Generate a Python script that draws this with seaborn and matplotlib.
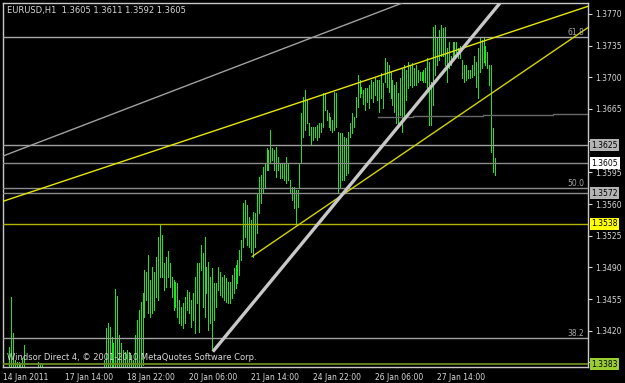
import numpy as np
import pandas as pd
import matplotlib
matplotlib.use("Agg")
import matplotlib.pyplot as plt
import matplotlib.transforms as mtransforms
from matplotlib.ticker import FormatStrFormatter
import seaborn as sns

# EURUSD H1, high / low of every bar (bar 0 = 14 Jan 2011)
high = [
    1.3371, 1.3374, 1.3377, 1.3402, 1.3457, 1.3418, 1.3388, 1.3386, 1.3386, 1.3384,
    1.3390, 1.3404, 1.3377, 1.3374, 1.3371, 1.3372, 1.3374, 1.3377, 1.3386, 1.3384,
    1.3383, 1.3376, 1.3372, 1.3368, 1.3365, 1.3369, 1.3374, 1.3371, 1.3366, 1.3362,
    1.3360, 1.3358, 1.3355, 1.3359, 1.3363, 1.3361, 1.3357, 1.3354, 1.3352, 1.3356,
    1.3360, 1.3363, 1.3366, 1.3362, 1.3365, 1.3369, 1.3372, 1.3370, 1.3374, 1.3376,
    1.3373, 1.3377, 1.3388, 1.3423, 1.3429, 1.3424, 1.3413, 1.3407, 1.3466, 1.3458,
    1.3415, 1.3407, 1.3399, 1.3397, 1.3399, 1.3397, 1.3393, 1.3388, 1.3415, 1.3432,
    1.3443, 1.3452, 1.3462, 1.3487, 1.3485, 1.3504, 1.3476, 1.3490, 1.3485, 1.3501,
    1.3524, 1.3537, 1.3526, 1.3495, 1.3501, 1.3508, 1.3495, 1.3479, 1.3476, 1.3474,
    1.3473, 1.3454, 1.3446, 1.3451, 1.3457, 1.3465, 1.3463, 1.3454, 1.3462, 1.3479,
    1.3495, 1.3495, 1.3515, 1.3506, 1.3524, 1.3490, 1.3496, 1.3479, 1.3489, 1.3473,
    1.3473, 1.3490, 1.3485, 1.3479, 1.3482, 1.3478, 1.3474, 1.3474, 1.3482, 1.3489,
    1.3493, 1.3498, 1.3509, 1.3520, 1.3561, 1.3564, 1.3559, 1.3546, 1.3542, 1.3551,
    1.3550, 1.3572, 1.3590, 1.3592, 1.3601, 1.3605, 1.3622, 1.3620, 1.3642, 1.3622,
    1.3620, 1.3623, 1.3612, 1.3605, 1.3605, 1.3605, 1.3612, 1.3605, 1.3586, 1.3579,
    1.3579, 1.3575, 1.3575, 1.3605, 1.3660, 1.3678, 1.3686, 1.3675, 1.3650, 1.3645,
    1.3645, 1.3645, 1.3647, 1.3649, 1.3649, 1.3683, 1.3683, 1.3664, 1.3660, 1.3656,
    1.3653, 1.3684, 1.3683, 1.3639, 1.3638, 1.3638, 1.3634, 1.3633, 1.3639, 1.3649,
    1.3660, 1.3656, 1.3678, 1.3702, 1.3697, 1.3689, 1.3686, 1.3688, 1.3688, 1.3691,
    1.3697, 1.3695, 1.3699, 1.3697, 1.3697, 1.3705, 1.3694, 1.3721, 1.3717, 1.3713,
    1.3706, 1.3697, 1.3691, 1.3695, 1.3683, 1.3699, 1.3710, 1.3713, 1.3708, 1.3717,
    1.3713, 1.3716, 1.3710, 1.3713, 1.3708, 1.3706, 1.3706, 1.3708, 1.3710, 1.3721,
    1.3717, 1.3695, 1.3755, 1.3758, 1.3743, 1.3752, 1.3758, 1.3754, 1.3755, 1.3732,
    1.3739, 1.3724, 1.3739, 1.3739, 1.3739, 1.3732, 1.3735, 1.3719, 1.3713, 1.3713,
    1.3708, 1.3708, 1.3713, 1.3724, 1.3717, 1.3732, 1.3743, 1.3741, 1.3743, 1.3735,
    1.3728, 1.3713, 1.3713, 1.3644, 1.3611,
]
low = [
    1.3349, 1.3352, 1.3355, 1.3360, 1.3366, 1.3366, 1.3360, 1.3359, 1.3361, 1.3359,
    1.3361, 1.3363, 1.3355, 1.3352, 1.3349, 1.3350, 1.3352, 1.3355, 1.3357, 1.3359,
    1.3357, 1.3352, 1.3348, 1.3345, 1.3341, 1.3346, 1.3350, 1.3347, 1.3342, 1.3338,
    1.3336, 1.3335, 1.3331, 1.3334, 1.3339, 1.3337, 1.3333, 1.3330, 1.3329, 1.3332,
    1.3338, 1.3341, 1.3344, 1.3340, 1.3343, 1.3347, 1.3350, 1.3348, 1.3352, 1.3355,
    1.3351, 1.3356, 1.3360, 1.3366, 1.3368, 1.3366, 1.3363, 1.3361, 1.3368, 1.3370,
    1.3366, 1.3363, 1.3360, 1.3361, 1.3363, 1.3362, 1.3360, 1.3359, 1.3366, 1.3371,
    1.3374, 1.3377, 1.3382, 1.3435, 1.3454, 1.3440, 1.3435, 1.3440, 1.3443, 1.3457,
    1.3454, 1.3479, 1.3479, 1.3465, 1.3468, 1.3479, 1.3468, 1.3457, 1.3443, 1.3446,
    1.3435, 1.3429, 1.3426, 1.3423, 1.3429, 1.3443, 1.3440, 1.3424, 1.3432, 1.3418,
    1.3451, 1.3419, 1.3487, 1.3446, 1.3435, 1.3462, 1.3421, 1.3429, 1.3399, 1.3432,
    1.3446, 1.3465, 1.3459, 1.3457, 1.3454, 1.3452, 1.3451, 1.3451, 1.3456, 1.3462,
    1.3467, 1.3473, 1.3482, 1.3498, 1.3513, 1.3524, 1.3515, 1.3513, 1.3507, 1.3501,
    1.3513, 1.3528, 1.3550, 1.3561, 1.3572, 1.3579, 1.3598, 1.3598, 1.3605, 1.3609,
    1.3598, 1.3590, 1.3598, 1.3589, 1.3589, 1.3586, 1.3583, 1.3586, 1.3572, 1.3564,
    1.3556, 1.3539, 1.3557, 1.3579, 1.3605, 1.3634, 1.3642, 1.3649, 1.3636, 1.3625,
    1.3631, 1.3634, 1.3631, 1.3634, 1.3639, 1.3645, 1.3664, 1.3653, 1.3645, 1.3642,
    1.3639, 1.3642, 1.3645, 1.3573, 1.3579, 1.3586, 1.3586, 1.3592, 1.3594, 1.3634,
    1.3638, 1.3645, 1.3656, 1.3667, 1.3678, 1.3683, 1.3671, 1.3664, 1.3673, 1.3666,
    1.3677, 1.3673, 1.3680, 1.3675, 1.3662, 1.3677, 1.3666, 1.3695, 1.3689, 1.3684,
    1.3677, 1.3669, 1.3662, 1.3650, 1.3647, 1.3658, 1.3639, 1.3655, 1.3675, 1.3688,
    1.3691, 1.3689, 1.3691, 1.3691, 1.3695, 1.3697, 1.3697, 1.3695, 1.3695, 1.3688,
    1.3647, 1.3647, 1.3669, 1.3702, 1.3713, 1.3719, 1.3724, 1.3724, 1.3713, 1.3695,
    1.3710, 1.3713, 1.3721, 1.3724, 1.3728, 1.3721, 1.3721, 1.3699, 1.3695, 1.3697,
    1.3699, 1.3699, 1.3700, 1.3702, 1.3689, 1.3677, 1.3706, 1.3710, 1.3717, 1.3713,
    1.3710, 1.3691, 1.3617, 1.3595, 1.3592,
]

tick_bars = [0, 32, 64, 96, 128, 160, 192, 224]
tick_labels = ["14 Jan 2011", "17 Jan 14:00", "18 Jan 22:00", "20 Jan 06:00",
               "21 Jan 14:00", "24 Jan 22:00", "26 Jan 06:00", "27 Jan 14:00"]
# 1.3385 and 1.3630 sit under the price boxes, so only their marks show
price_ticks = [1.3385, 1.3420, 1.3455, 1.3490, 1.3525, 1.3560, 1.3595,
               1.3630, 1.3665, 1.3700, 1.3735, 1.3770]
hidden_ticks = [1.3385, 1.3630]

# horizontal objects: price, colour
hlevels = [1.3744, 1.3625, 1.3605, 1.3578, 1.3572, 1.3538, 1.3412, 1.3383]
hcolors = ["#a8a8a8", "#a0a0a0", "#8c8c8c", "#8c8c8c", "#8c8c8c",
           "#b4b400", "#a0a0a0", "#6b8e23"]
fib_levels = [1.3744, 1.3578, 1.3412]
fib_names = ["61.8", "50.0", "38.2"]
# price boxes on the scale
box_prices = [1.3625, 1.3605, 1.3572, 1.3538, 1.3383]
box_colors = ["#b4b4b4", "#ffffff", "#b4b4b4", "#ffff00", "#9acd32"]

# trend lines: two anchor points (bar, price)
grey_channel = [(0, 1.3613), (200, 1.3777)]
yellow_upper = [(0, 1.3563), (300, 1.3777)]
yellow_lower = [(128.5, 1.3502), (302, 1.3755)]
grey_steep = [(108.3, 1.3397), (256.5, 1.3782)]
# stepped dark line: start bar, end bar, price
pivot_steps = [(193.5, 211.5, 1.3656), (211.5, 247.5, 1.3657),
               (247.5, 284, 1.3658), (284, 302, 1.3659)]

bar_idx = np.arange(len(high))
bars = pd.DataFrame({
    "bar": np.repeat(bar_idx, 2),
    "price": np.column_stack([low, high]).ravel(),
})

sns.set_theme(style="dark")
plt.rcParams["font.family"] = ["DejaVu Sans"]
txt = "#d8d8d8"

fig = plt.figure(figsize=(6.25, 3.83), dpi=100, facecolor="black")
ax = fig.add_axes([3 / 625, 16 / 383, 585 / 625, 364 / 383])
ax.set_facecolor("black")

sns.lineplot(data=bars, x="bar", y="price", units="bar", estimator=None,
             sort=False, color="#22e022", lw=0.72, antialiased=False,
             legend=False, ax=ax, zorder=2)

for lvl, c in zip(hlevels, hcolors):
    ax.axhline(lvl, color=c, lw=1.3 if c == "#6b8e23" else 1, zorder=3)
for b0, b1, p in pivot_steps:
    ax.plot([b0, b1], [p, p], color="#6a6a6a", lw=1, zorder=3)

ax.axline(grey_channel[0], grey_channel[1], color="#a0a0a0", lw=1, zorder=3)
ax.axline(yellow_upper[0], yellow_upper[1], color="#e8e800", lw=1, zorder=3)


def ray(pts, x_end=320):
    (x0, y0), (x1, y1) = pts
    k = (y1 - y0) / (x1 - x0)
    return [x0, x_end], [y0, y0 + k * (x_end - x0)]


rx, ry = ray(yellow_lower)
ax.plot(rx, ry, color="#d4d400", lw=1, zorder=3)
rx, ry = ray(grey_steep)
ax.plot(rx, ry, color="#c8c8c8", lw=2.4, zorder=3, solid_capstyle="butt")

ax.set_xlim(0, 301.9)
ax.set_ylim(1.3380, 1.3782)

# price scale on the right
ax.yaxis.tick_right()
ax.set_yticks(price_ticks)
ax.set_yticklabels(["" if p in hidden_ticks else f"{p:.4f}" for p in price_ticks])
ax.set_xticks(tick_bars)
ax.set_xticklabels(tick_labels)
for lab in ax.get_xticklabels():
    lab.set_horizontalalignment("left")
ax.tick_params(axis="both", colors=txt, labelsize=5.5, length=3, width=0.8,
               direction="out", pad=2)
ax.tick_params(axis="x", pad=1)
ax.set_xlabel("")
ax.set_ylabel("")
ax.grid(False)
for s in ax.spines.values():
    s.set_color("#c8c8c8")
    s.set_linewidth(1)
    s.set_visible(True)

mix = mtransforms.blended_transform_factory(ax.transAxes, ax.transData)
for p, c in zip(box_prices, box_colors):
    ax.text(1.006, p, f"{p:.4f}", transform=mix, ha="left", va="center",
            fontsize=5.5, color="black", clip_on=False, zorder=6,
            bbox=dict(boxstyle="square,pad=0.18", fc=c, ec="none"))
for p, name in zip(fib_levels, fib_names):
    ax.text(0.994, p, name, transform=mix, ha="right", va="bottom",
            fontsize=5.5, color="#a8a8a8", zorder=4)

ax.text(0.007, 0.992, "EURUSD,H1  1.3605 1.3611 1.3592 1.3605",
        transform=ax.transAxes, ha="left", va="top", fontsize=6, color=txt,
        zorder=5)
ax.text(0.007, 0.026, "Windsor Direct 4, © 2001-2010 MetaQuotes Software Corp.",
        transform=ax.transAxes, ha="left", va="center", fontsize=6,
        color=txt, zorder=5)

fig.savefig("out.png", dpi=100, facecolor="black")
